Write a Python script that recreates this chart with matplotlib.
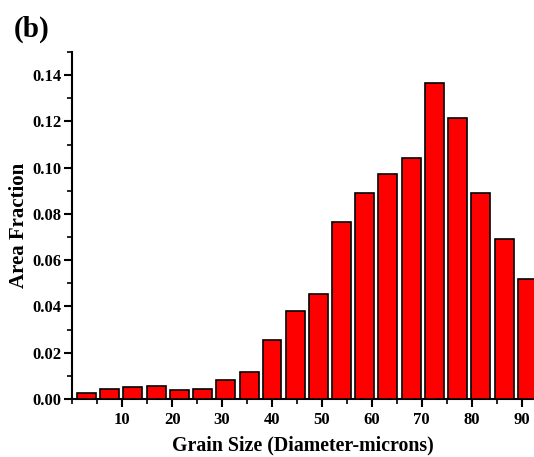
import matplotlib
matplotlib.use("Agg")
import matplotlib.pyplot as plt
from matplotlib.ticker import MultipleLocator

# bin centres (microns) and area fraction
grain_size = [2.85, 7.5, 12.1, 16.8, 21.4, 26.1, 30.7, 35.4, 40.0, 44.7,
              49.3, 54.0, 58.6, 63.2, 67.9, 72.5, 77.2, 81.8, 86.5, 91.1]
area_fraction = [0.0025, 0.0042, 0.0052, 0.0057, 0.0039, 0.0043, 0.0082, 0.0118, 0.0256, 0.0382,
                 0.0453, 0.0766, 0.0891, 0.0973, 0.1040, 0.1368, 0.1217, 0.0891, 0.0690, 0.0517]
x_ticks = [10, 20, 30, 40, 50, 60, 70, 80, 90]
y_ticks = [0.00, 0.02, 0.04, 0.06, 0.08, 0.10, 0.12, 0.14]

plt.rcParams["font.family"] = ["Liberation Serif", "DejaVu Serif"]
plt.rcParams["font.weight"] = "bold"

fig = plt.figure(figsize=(5.34, 4.57), dpi=100)
ax = fig.add_axes([0.1355, 0.127, 0.8645, 0.759])

ax.bar(grain_size, area_fraction, width=3.8, color="#ff0000",
       edgecolor="black", linewidth=1.2, zorder=3)

ax.set_xlim(0, 92.5)
ax.set_ylim(0, 0.15)
ax.set_xticks(x_ticks)
ax.set_yticks(y_ticks)
ax.set_yticklabels([f"{v:.2f}" for v in y_ticks])
ax.xaxis.set_minor_locator(MultipleLocator(5))
ax.yaxis.set_minor_locator(MultipleLocator(0.01))

for s in ("top", "right"):
    ax.spines[s].set_visible(False)
for s in ("left", "bottom"):
    ax.spines[s].set_linewidth(1.5)
ax.tick_params(which="major", direction="out", length=6, width=1.5, labelsize=12)
ax.tick_params(axis="y", which="major", pad=2)
ax.tick_params(which="minor", direction="out", length=3.5, width=1.2)
for lab in ax.get_xticklabels() + ax.get_yticklabels():
    lab.set_fontweight("bold")

ax.set_xlabel("Grain Size (Diameter-microns)", fontsize=14.3, fontweight="bold", labelpad=5)
ax.set_ylabel("Area Fraction", fontsize=15, fontweight="bold", labelpad=2)
fig.text(0.026, 0.92, "(b)", fontsize=21, fontweight="bold")

fig.savefig("out.png", dpi=100)
